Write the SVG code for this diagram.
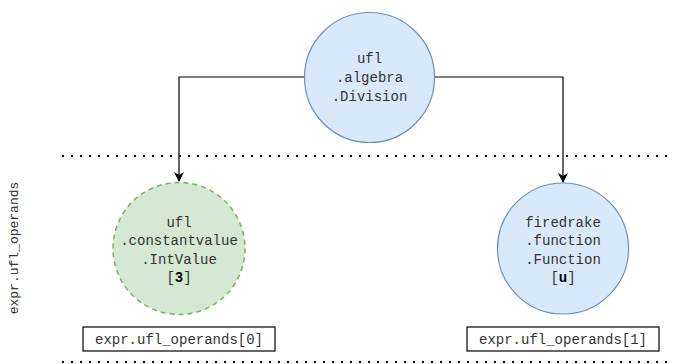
<svg xmlns="http://www.w3.org/2000/svg" width="674" height="364" viewBox="0 0 674 364">
<defs>
<marker id="arr" viewBox="0 0 10 10" refX="9" refY="5" markerWidth="10" markerHeight="10" markerUnits="userSpaceOnUse" orient="auto">
<path d="M0,0 L10,5 L0,10 L3,5 Z" fill="#000"/>
</marker>
<style>
.t{font-family:"Liberation Mono","Courier New",monospace;font-size:14px;fill:#333;text-anchor:middle}
.blue{fill:#dae8fc;stroke:#6c8ebf;stroke-width:1.2}
.green{fill:#d5e8d4;stroke:#82b366;stroke-width:1.6;stroke-dasharray:5 4}
.dots{stroke:#000;stroke-width:2;stroke-dasharray:2 7}
.edge{fill:none;stroke:#000;stroke-width:1.2}
.box{fill:#fff;stroke:#000;stroke-width:1.2}
</style>
</defs>
<rect width="674" height="364" fill="#fff"/>
<g id="separators">
<line class="dots" x1="62" y1="156" x2="674" y2="156"/>
<line class="dots" x1="62" y1="362" x2="674" y2="362"/>
</g>
<g id="side-label">
<text class="t" font-size="13" style="font-size:13px" transform="translate(18,248) rotate(-90)">expr.ufl_operands</text>
</g>
<g id="connectors">
<path class="edge" d="M305,77 H179 V181" marker-end="url(#arr)"/>
<path class="edge" d="M434,77 H563 V182" marker-end="url(#arr)"/>
</g>
<g id="division">
<circle class="blue" cx="369.5" cy="77.5" r="65"/>
<text class="t" x="369.5" y="63">ufl</text>
<text class="t" x="369.5" y="82">.algebra</text>
<text class="t" x="369.5" y="101">.Division</text>
</g>
<g id="intvalue">
<circle class="green" cx="179" cy="248.5" r="66"/>
<text class="t" x="179" y="226.5">ufl</text>
<text class="t" x="179" y="245">.constantvalue</text>
<text class="t" x="179" y="263.5">.IntValue</text>
<text class="t" x="179" y="282">[<tspan font-weight="bold" fill="#000">3</tspan>]</text>
</g>
<g id="function">
<circle class="blue" cx="563" cy="248.5" r="65.5"/>
<text class="t" x="563" y="226.5">firedrake</text>
<text class="t" x="563" y="245">.function</text>
<text class="t" x="563" y="263.5">.Function</text>
<text class="t" x="563" y="282">[<tspan font-weight="bold" fill="#000">u</tspan>]</text>
</g>
<g id="label0">
<rect class="box" x="83" y="327" width="192" height="24"/>
<text class="t" x="179" y="344">expr.ufl_operands[0]</text>
</g>
<g id="label1">
<rect class="box" x="467" y="327" width="192" height="24"/>
<text class="t" x="563" y="344">expr.ufl_operands[1]</text>
</g>
</svg>
